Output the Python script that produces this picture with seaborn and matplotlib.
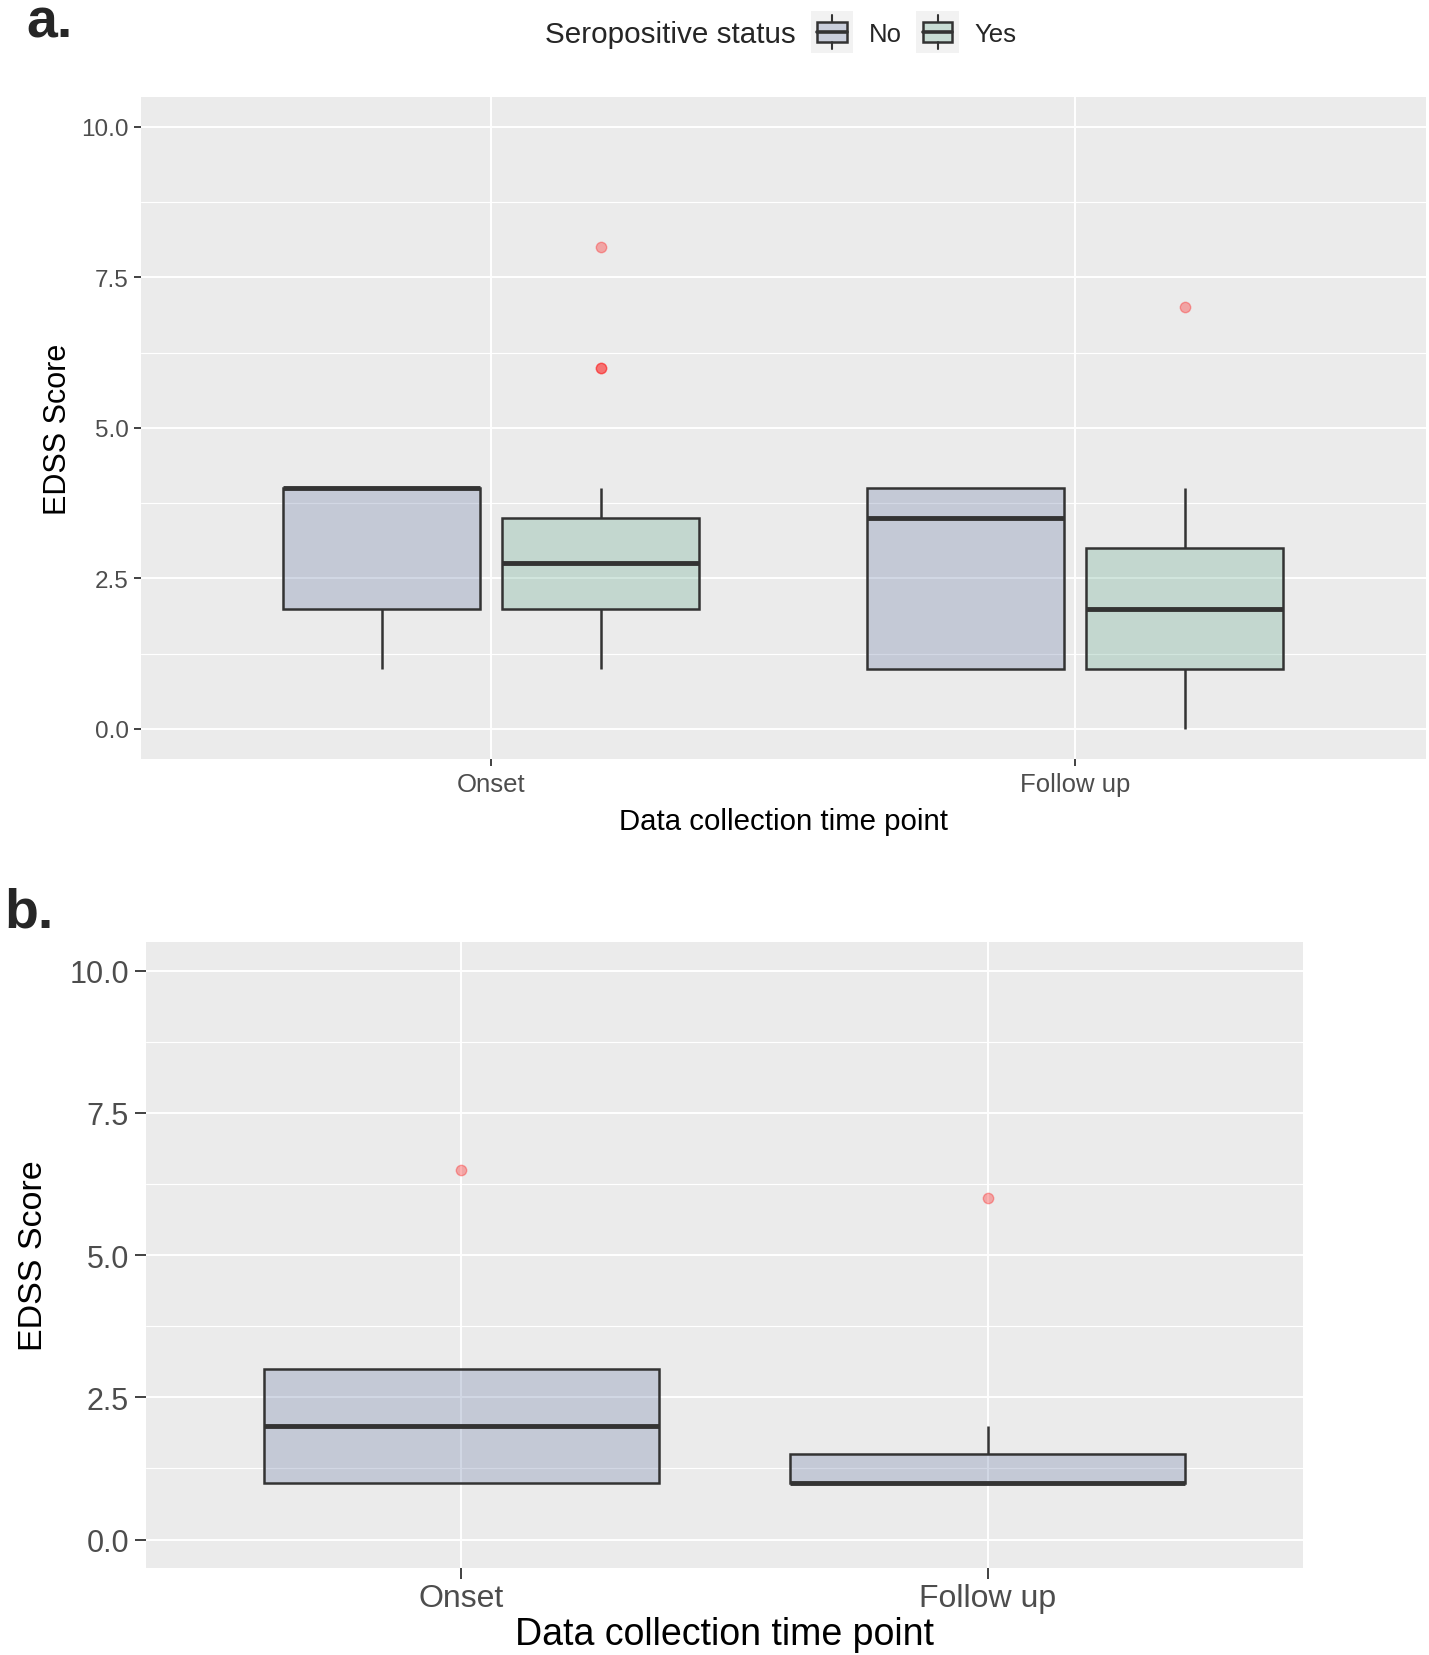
import numpy as np
import pandas as pd
import matplotlib
matplotlib.use("Agg")
import matplotlib.pyplot as plt
import seaborn as sns
from matplotlib.patches import Rectangle, Patch
from matplotlib.lines import Line2D
from matplotlib.legend_handler import HandlerBase
from matplotlib.colors import to_rgba

# ---------------- data (EDSS scores) ----------------
timepoints = ["Onset", "Follow up"]
status_levels = ["No", "Yes"]

# panel a: seropositive status No / Yes
a_onset_no = [1, 2, 2, 4, 4, 4, 4]
a_onset_yes = [1, 1.5, 2, 2, 2, 2, 2.5, 2.5, 2.5, 3, 3, 3, 3.5, 3.5, 4, 6, 6, 8]
a_follow_no = [1, 1, 3.5, 4, 4]
a_follow_yes = [0, 1, 1, 1.5, 2, 2.5, 3, 4, 7]

# panel b
b_onset = [1, 1, 1, 2, 3, 3, 6.5]
b_follow = [1, 1, 1, 1, 1, 1.5, 1.5, 2, 6]

y_ticks = [0, 2.5, 5, 7.5, 10]
y_tick_labels = ["0.0", "2.5", "5.0", "7.5", "10.0"]
y_minor = [1.25, 3.75, 6.25, 8.75]

# ---------------- tables ----------------
rows = []
for t, s, vals in [("Onset", "No", a_onset_no), ("Onset", "Yes", a_onset_yes),
                   ("Follow up", "No", a_follow_no), ("Follow up", "Yes", a_follow_yes)]:
    rows += [{"time": t, "status": s, "score": v} for v in vals]
df_a = pd.DataFrame(rows)
rows = []
for t, vals in [("Onset", b_onset), ("Follow up", b_follow)]:
    rows += [{"time": t, "score": v} for v in vals]
df_b = pd.DataFrame(rows)

# ---------------- style ----------------
sns.set_theme(style="darkgrid")
plt.rcParams["font.family"] = ["Liberation Sans", "DejaVu Sans"]
plt.rcParams["axes.facecolor"] = "#EBEBEB"

BG = "#EBEBEB"
EDGE = "#333333"
palette = {"No": "#6C7DA8", "Yes": "#69AC91"}
FILL_ALPHA = 0.3

fig = plt.figure(figsize=(14.29, 16.56), dpi=100)
ax_a = fig.add_axes([0.0987, 0.541, 0.899, 0.400])
ax_b = fig.add_axes([0.102, 0.0525, 0.810, 0.378])

flier = dict(marker="o", markerfacecolor="red", markeredgecolor="red", alpha=0.3)

sns.boxplot(data=df_a, x="time", y="score", hue="status", order=timepoints,
            hue_order=status_levels, palette=palette, saturation=1, width=0.75,
            gap=0.1, linecolor=EDGE, linewidth=1.8, fliersize=7.5,
            flierprops=flier, medianprops=dict(linewidth=3.5),
            capprops=dict(linewidth=0), legend=False, ax=ax_a)

sns.boxplot(data=df_b, x="time", y="score", order=timepoints,
            color=palette["No"], saturation=1, width=0.75,
            linecolor=EDGE, linewidth=1.8, fliersize=7.5,
            flierprops=flier, medianprops=dict(linewidth=3.5),
            capprops=dict(linewidth=0), ax=ax_b)


def style_axes(ax, tick_len, xt_size, yt_size, xpad, ypad):
    for p in ax.patches:
        fc = p.get_facecolor()
        p.set_facecolor((fc[0], fc[1], fc[2], FILL_ALPHA))
    ax.set_facecolor(BG)
    ax.set_ylim(-0.5, 10.5)
    ax.set_xlim(-0.6, 1.6)
    ax.set_yticks(y_ticks)
    ax.set_yticklabels(y_tick_labels)
    ax.set_yticks(y_minor, minor=True)
    ax.grid(False)
    ax.grid(which="major", axis="both", color="white", linewidth=1.4)
    ax.grid(which="minor", axis="y", color="white", linewidth=0.8)
    ax.set_axisbelow(True)
    for s in ax.spines.values():
        s.set_visible(False)
    ax.tick_params(which="minor", length=0)
    ax.tick_params(axis="both", which="major", bottom=True, left=True,
                   length=tick_len, width=1.3, color=EDGE,
                   labelcolor="#4D4D4D")
    ax.tick_params(axis="x", labelsize=xt_size, pad=xpad)
    ax.tick_params(axis="y", labelsize=yt_size, pad=ypad)


style_axes(ax_a, 5, 18.5, 17.5, 4.5, 4)
style_axes(ax_b, 8, 23, 22, 3, 4)

ax_a.set_xlabel("Data collection time point", fontsize=21.2, color="black", va="center")
ax_a.xaxis.set_label_coords(0.5, -0.0937)
ax_a.set_ylabel("EDSS Score", fontsize=22, color="black", va="center")
ax_a.yaxis.set_label_coords(-0.065, 0.5)

ax_b.set_xlabel("Data collection time point", fontsize=27, color="black", va="center")
ax_b.xaxis.set_label_coords(0.5, -0.105)
ax_b.set_ylabel("EDSS Score", fontsize=24.5, color="black", va="center")
ax_b.yaxis.set_label_coords(-0.097, 0.5)


# ---------------- legend (panel a) ----------------
class BoxKeyHandler(HandlerBase):
    def create_artists(self, legend, orig_handle, xdescent, ydescent,
                       width, height, fontsize, trans):
        x0 = -xdescent
        cy = -ydescent + height / 2
        side = width
        y0 = cy - side / 2
        fc = orig_handle.get_facecolor()
        arts = [Rectangle((x0, y0), side, side, facecolor="#F2F2F2",
                          edgecolor="none", transform=trans)]
        bx0, bw = x0 + 0.15 * side, 0.70 * side
        by0, bh = y0 + 0.27 * side, 0.46 * side
        xm = x0 + side / 2
        arts.append(Line2D([xm, xm], [y0 + 0.1 * side, by0], color=EDGE,
                           lw=1.5, transform=trans))
        arts.append(Line2D([xm, xm], [by0 + bh, y0 + 0.9 * side], color=EDGE,
                           lw=1.5, transform=trans))
        arts.append(Rectangle((bx0, by0), bw, bh, facecolor=fc, edgecolor=EDGE,
                              linewidth=1.8, transform=trans))
        arts.append(Line2D([bx0, bx0 + bw], [by0 + bh / 2] * 2, color=EDGE,
                           lw=2.6, transform=trans))
        return arts


handles = [Patch(facecolor=to_rgba(palette[s], FILL_ALPHA)) for s in status_levels]
fig.legend(handles, status_levels, handler_map={Patch: BoxKeyHandler()},
           loc="center left", bbox_to_anchor=(811 / 1429, 1 - 34 / 1656),
           ncol=2, frameon=False, fontsize=18.5, handlelength=1.65,
           handleheight=1.0, handletextpad=0.62, columnspacing=0.55,
           borderpad=0, borderaxespad=0)
fig.text(545 / 1429, 1 - 35 / 1656, "Seropositive status", ha="left",
         va="center", fontsize=21.3)

fig.text(26 / 1429, 1 - 37 / 1656, "a.", fontsize=40, fontweight="bold",
         ha="left", va="baseline")
fig.text(4 / 1429, 1 - 928 / 1656, "b.", fontsize=40, fontweight="bold",
         ha="left", va="baseline")

fig.savefig("out.png", dpi=100)
